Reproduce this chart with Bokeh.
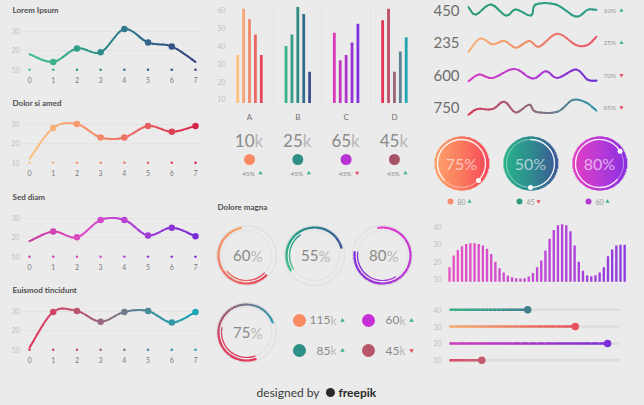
import numpy as np
from bokeh.plotting import figure
from bokeh.layouts import row, column
from bokeh.models import FixedTicker, Range1d
from bokeh.core.properties import value
from bokeh.embed import file_html
from bokeh.resources import INLINE

BG = "#ebebeb"
FONT = "Lato"
UP = "#3bb08f"
DOWN = "#e2475c"

# ------------------------------------------------------------------ data
line_x = [0, 1, 2, 3, 4, 5, 6, 7]
line_y_ticks = [10, 20, 30]
lorem_ipsum = [18, 14, 21, 19, 31, 24, 22, 14]
dolor_si_amed = [12, 28, 30, 23, 23, 29, 26, 29]
sed_diam = [18, 23, 20, 29, 29, 21, 25, 20.5]
euismod_tincidunt = [11, 29.5, 30, 24.5, 29.5, 30, 24, 29.5]
line_titles = ["Lorem Ipsum", "Dolor si amed", "Sed diam", "Euismod tincidunt"]

bar_groups = ["A", "B", "C", "D"]
bar_y_ticks = [10, 20, 30, 40, 50, 60]
bars_a = [35, 61, 55, 46.5, 35]
bars_b = [40, 46.5, 62, 58, 25.5]
bars_c = [47.5, 32, 35, 42, 52.5]
bars_d = [54.5, 61, 25.5, 37, 45]

kpi_values = ["10", "25", "65", "45"]
kpi_changes = ["45%", "45%", "45%", "45%"]
kpi_up = [True, True, False, True]

ring_pct = [60, 55, 80, 75]
magna_values = ["115", "85", "60", "45"]
magna_up = [True, True, True, False]

spark_labels = ["450", "235", "600", "750"]
spark_changes = ["10%", "25%", "70%", "85%"]
spark_up = [True, True, False, False]
spark1_x = [0, 5.7, 17.4, 29.2, 37.0, 48.7, 52.6, 68.2, 83.9, 93.0, 100]
spark1_v = [30, 8, 38, 5, 23, 5, 38, 38, 2, 22, 22]
spark2_x = [0, 9.1, 18.8, 27.9, 37.0, 47.4, 55.2, 69.5, 83.9, 93.0, 100]
spark2_v = [7, 47, 30, 40, 20, 40, 23, 62, 28, 28, 53]
spark3_x = [0, 8.3, 18.8, 35.7, 50.0, 60.4, 69.5, 83.9, 93.0, 100]
spark3_v = [10, 30, 20, 47, 18, 40, 20, 45, 15, 12]
spark4_x = [0, 7.0, 18.8, 27.9, 37.0, 47.4, 52.6, 69.5, 81.3, 91.7, 100]
spark4_v = [8, 25, 25, 47, 15, 38, 17, 17, 52, 45, 20]

circle_pct = [75, 50, 80]
circle_counts = ["80", "45", "60"]
circle_up = [True, False, True]

wave_y_ticks = [10, 20, 30, 40]
wave_values = [16.8, 23.5, 26.7, 28.8, 30.1, 30.5, 30.5, 30.1, 29.2, 27.3, 24.4,
               20.0, 16.3, 13.8, 12.1, 11.1, 10.6, 10.4, 10.6, 11.5, 13.6, 16.8,
               20.6, 26.3, 33.0, 38.1, 40.7, 41.3, 40.7, 37.3, 29.2, 20.0, 14.9,
               12.1, 11.7, 12.3, 13.8, 16.8, 23.1, 26.9, 29.2, 29.7, 29.7]

slider_levels = [40, 30, 20, 10]
slider_values = [46, 74, 93, 19]

# ------------------------------------------------------------------ palettes
LINE_STOPS = [["#46c08f", "#2f9a88", "#2f6c8c", "#3a3f80"],
              ["#fcc584", "#f8946b", "#ea6663", "#d5264c"],
              ["#c43da0", "#e04cc6", "#a83ed6", "#7a2fd6"],
              ["#e33759", "#c34f6c", "#8a7186", "#3d8e9c", "#1ea6b4"]]
BAR_STOPS = [["#fbbf7e", "#f08a68", "#e0485a"],
             ["#3ab38a", "#2f8a84", "#3a4f8f"],
             ["#d83bb8", "#b032cc", "#7f30e0"],
             ["#e0365a", "#9a6478", "#21a4b0"]]
KPI_COLORS = ["#f98a62", "#2e8f86", "#b833d4", "#a85268"]
RING_STOPS = [["#f9a86b", "#f07a62", "#e6455c"],
              ["#3a4d8f", "#2f7f92", "#2aa38a", "#47be8c"],
              ["#e040c8", "#b73ad6", "#7a2fd6"],
              ["#2a9fb0", "#8a6b80", "#d8405e", "#e33759"]]
RING_START = [100, 15, 100, 20]
RING_DIR = [1, 1, -1, 1]
MAGNA_COLORS = ["#f98a62", "#2e8f86", "#c630d6", "#b7566a"]
SPARK_STOPS = [["#2c9c78", "#2e9e8a"],
               ["#f8b57a", "#ef8a6a", "#e8566a"],
               ["#d63fc0", "#b43ad0", "#6a2fd0"],
               ["#d8395a", "#8c6a7a", "#2a9aaa"]]
CIRCLE_STOPS = [["#fca36b", "#fb7a5f", "#f5485a"],
                ["#28b28a", "#2e8d8e", "#3d5896"],
                ["#e43fc2", "#b93bd6", "#8a2fe0"]]
CIRCLE_DOT_ANGLE = [-45, -90, 31]
CIRCLE_LEG = ["#f49070", "#2e9a80", "#b23ad0"]
WAVE_STOPS = ["#e752c3", "#c247d5", "#8c3be2"]
SLIDER_STOPS = [["#3bb08a", "#3d7f8c"], ["#f7ac6c", "#e5525a"],
                ["#d33ab8", "#7a2fd8"], ["#e0385c", "#c45a70"]]


# ------------------------------------------------------------------ helpers
def h2r(h):
    h = h.lstrip("#")
    return [int(h[i:i + 2], 16) for i in (0, 2, 4)]


def grad1(stops, t):
    t = min(max(float(t), 0.0), 1.0)
    n = len(stops) - 1
    k = min(int(t * n), n - 1)
    f = t * n - k
    a, b = h2r(stops[k]), h2r(stops[k + 1])
    return "#%02x%02x%02x" % tuple(int(round(a[i] + (b[i] - a[i]) * f)) for i in range(3))


def grad(stops, ts):
    return [grad1(stops, t) for t in ts]


def bez_pt(B, t):
    m = 1 - t
    return m ** 3 * B[0] + 3 * m * m * t * B[1] + 3 * m * t * t * B[2] + t ** 3 * B[3]


def bez_d(B, t):
    m = 1 - t
    return 3 * m * m * (B[1] - B[0]) + 6 * m * t * (B[2] - B[1]) + 3 * t * t * (B[3] - B[2])


def smooth_line(p, xs, ys, stops, width=2.0, sub=5):
    xs = np.asarray(xs, float)
    ys = np.asarray(ys, float)
    P = np.column_stack([xs, ys])
    n = len(xs)
    d = {k: [] for k in ("x0", "y0", "x1", "y1", "cx0", "cy0", "cx1", "cy1")}
    cols = []
    span = xs[-1] - xs[0]
    for i in range(n - 1):
        p0, p3 = P[i], P[i + 1]
        pm_ = P[i - 1] if i > 0 else P[i]
        pn = P[i + 2] if i + 2 < n else P[i + 1]
        B = np.array([p0, p0 + (p3 - pm_) / 6.0, p3 - (pn - p0) / 6.0, p3])
        for j in range(sub):
            t0, t1 = j / sub, (j + 1) / sub
            a, dd = bez_pt(B, t0), bez_pt(B, t1)
            b = a + bez_d(B, t0) * (t1 - t0) / 3
            c = dd - bez_d(B, t1) * (t1 - t0) / 3
            d["x0"].append(a[0]); d["y0"].append(a[1])
            d["x1"].append(dd[0]); d["y1"].append(dd[1])
            d["cx0"].append(b[0]); d["cy0"].append(b[1])
            d["cx1"].append(c[0]); d["cy1"].append(c[1])
            cols.append(grad1(stops, (bez_pt(B, (t0 + t1) / 2)[0] - xs[0]) / span))
    p.bezier(line_color=cols, line_width=width, line_cap="round", **d)


def grad_arc(p, x, y, r, a0, sweep, stops, width, t0=0.0, t1=1.0, n=40, alpha=1.0):
    ts = np.linspace(t0, t1, n + 1)
    angs = a0 + sweep * ts
    s, e = angs[:-1], angs[1:]
    if sweep < 0:
        s, e = e, s
    cols = grad(stops, (ts[:-1] + ts[1:]) / 2)
    p.arc(x=[x] * n, y=[y] * n, radius=r, radius_units="screen",
          start_angle=np.radians(s - 0.8), end_angle=np.radians(e + 0.8),
          line_color=cols, line_width=width, line_alpha=alpha)


def base(w, h, xr, yr, left=0, right=0, top=0, bottom=0, axes=False, **kw):
    extra = {} if axes else dict(x_axis_location=None, y_axis_location=None)
    p = figure(width=w, height=h, x_range=xr, y_range=yr, output_backend="svg",
               toolbar_location=None, min_border_left=left, min_border_right=right,
               min_border_top=top, min_border_bottom=bottom, **extra, **kw)
    p.background_fill_color = BG
    p.border_fill_color = BG
    p.outline_line_color = None
    p.grid.visible = False
    return p


def style_axis(ax, color, size, standoff=2):
    ax.axis_line_color = None
    ax.major_tick_line_color = None
    ax.minor_tick_line_color = None
    ax.major_tick_out = 0
    ax.major_tick_in = 0
    ax.major_label_text_color = color
    ax.major_label_text_font = FONT
    ax.major_label_text_font_size = size
    ax.major_label_standoff = standoff


def txt(p, x, y, t, size, color, align="center", style="normal", alpha=1.0, xo=0, baseline="middle"):
    p.text(x=x, y=y, text=t, text_font=value(FONT), text_font_size=size,
           text_color=color, text_align=align, text_baseline=baseline,
           text_font_style=style, text_alpha=alpha, x_offset=xo)


def tri(p, x, y, up, size=4.5):
    p.scatter(x=x, y=y, marker="triangle" if up else "inverted_triangle", size=size,
              color=UP if up else DOWN, line_color=None)


def boxed(p):
    # own row around each figure, so that its frame is not aligned with its neighbours
    return row(p, styles={"background-color": BG})


# ------------------------------------------------------------------ left: line panels
def line_panel(title, ys, stops, mark_from, height):
    p = base(210, height, Range1d(-0.295, 7.38), Range1d(8, 37), left=22, right=6,
             top=15, bottom=height - 73, axes=True, title=title)
    p.title.text_font = FONT
    p.title.text_font_size = "8px"
    p.title.text_font_style = "bold"
    p.title.text_color = "#505050"
    p.title.align = "left"
    p.title.offset = -10
    p.title.standoff = 5
    p.xaxis.ticker = FixedTicker(ticks=line_x)
    p.yaxis.ticker = FixedTicker(ticks=line_y_ticks)
    style_axis(p.xaxis[0], "#7a7a7a", "7px", 3)
    style_axis(p.yaxis[0], "#c0c0c0", "7px", 3)
    p.ygrid.visible = True
    p.ygrid.ticker = FixedTicker(ticks=[20, 30])
    p.ygrid.grid_line_color = "#e3e3e3"
    tcols = grad(stops, np.array(line_x) / 7.0)
    p.line(x=line_x, y=[10] * 8, line_color="#dadada", line_width=1, line_dash="1 3")
    p.scatter(x=line_x, y=[10] * 8, size=2.5, color=tcols, line_color=None)
    smooth_line(p, line_x, ys, stops, width=2.0)
    mx = line_x[mark_from[0]:mark_from[1]]
    my = ys[mark_from[0]:mark_from[1]]
    p.scatter(x=mx, y=my, size=6.5, color=tcols[mark_from[0]:mark_from[1]], line_color=None)
    return p


left = column(
    line_panel(line_titles[0], lorem_ipsum, LINE_STOPS[0], (1, 7), 93),
    line_panel(line_titles[1], dolor_si_amed, LINE_STOPS[1], (1, 8), 94),
    line_panel(line_titles[2], sed_diam, LINE_STOPS[2], (1, 8), 93),
    line_panel(line_titles[3], euismod_tincidunt, LINE_STOPS[3], (1, 8), 125),
    styles={"background-color": BG},
)

# ------------------------------------------------------------------ middle: bars
xr_mid = Range1d(-0.435, 3.457)
pb = base(210, 125, xr_mid, Range1d(6, 62.8), left=18, right=4, top=5, bottom=19, axes=True)
pb.xaxis.ticker = FixedTicker(ticks=[0, 1, 2, 3])
pb.xaxis.major_label_overrides = {i: g for i, g in enumerate(bar_groups)}
pb.yaxis.ticker = FixedTicker(ticks=bar_y_ticks)
style_axis(pb.xaxis[0], "#707070", "8px", 5)
style_axis(pb.yaxis[0], "#c0c0c0", "7px", 3)
pb.xgrid.visible = True
pb.xgrid.ticker = FixedTicker(ticks=[0.5, 1.5, 2.5])
pb.xgrid.grid_line_color = "#e4e4e4"
offsets = np.array([-2, -1, 0, 1, 2]) * 0.122
for gi, vals in enumerate([bars_a, bars_b, bars_c, bars_d]):
    pb.vbar(x=gi + offsets, bottom=8, top=vals, width=0.058,
            color=grad(BAR_STOPS[gi], np.linspace(0, 1, 5)), line_color=None)

PX_MID = 48.3  # px per group unit
pk = base(210, 57, xr_mid, Range1d(0, 57), left=18, right=4)
gx = np.arange(4)
txt(pk, gx, [42] * 4, kpi_values, "17px", "#8a8a8a", align="right", xo=5)
txt(pk, gx, [42] * 4, ["k"] * 4, "17px", "#b8b8b8", align="left", xo=5)
pk.scatter(x=gx, y=[23] * 4, size=11, color=KPI_COLORS, line_color=None)
txt(pk, gx, [9] * 4, kpi_changes, "6.5px", "#8a8a8a", xo=-1)
for i in range(4):
    tri(pk, [gx[i] + 11 / PX_MID], [9.5], kpi_up[i], size=4)

# ------------------------------------------------------------------ middle: Dolore magna
PX_RING = 68.0
pm = base(210, 223, Range1d(-36 / PX_RING, 174 / PX_RING), Range1d(-(223 - 73) / 77, 73 / 77))
txt(pm, [-29 / PX_RING], [(73 - 24) / 77], ["Dolore magna"], "8px", "#505050", align="left", style="bold")
ring_col = [0, 1, 2, 0]
ring_row = [0, 0, 0, -1]
for i, pct in enumerate(ring_pct):
    cx, cy = ring_col[i], ring_row[i]
    pm.arc(x=[cx], y=[cy], radius=30, radius_units="screen", start_angle=0,
           end_angle=2 * np.pi, line_color="#dcdcdc", line_width=1)
    pm.arc(x=[cx], y=[cy], radius=25, radius_units="screen", start_angle=0,
           end_angle=2 * np.pi, line_color="#e0e0e0", line_width=1)
    sweep = RING_DIR[i] * pct / 100 * 360
    grad_arc(pm, cx, cy, 28, RING_START[i], sweep, RING_STOPS[i], 2.2)
    grad_arc(pm, cx, cy, 25, RING_START[i], sweep, RING_STOPS[i], 1.2, t0=0.55, t1=1.0, n=24)
    txt(pm, [cx], [cy], [str(pct)], "15px", "#8a8a8a", align="right", xo=4)
    txt(pm, [cx], [cy], ["%"], "15px", "#b8b8b8", align="left", xo=4)

leg_x = np.array([0.779, 0.779, 1.794, 1.794])
leg_y = [-0.844, -1.234, -0.844, -1.234]
pm.scatter(x=leg_x, y=leg_y, size=13, color=MAGNA_COLORS, line_color=None)
txt(pm, leg_x, leg_y, magna_values, "12px", "#8a8a8a", align="right", xo=31)
txt(pm, leg_x, leg_y, ["k"] * 4, "12px", "#b8b8b8", align="left", xo=31)
for i in range(4):
    tri(pm, [leg_x[i] + 43 / PX_RING], [leg_y[i]], magna_up[i], size=4.5)

FOOT_Y = -(210 - 73) / 77
txt(pm, [1.074], [FOOT_Y], ["designed by"], "12px", "#3a3a3a", align="right")
pm.scatter(x=[1.235], y=[FOOT_Y], size=9, color="#2a2a2a", line_color=None)
txt(pm, [1.353], [FOOT_Y], ["freepik"], "12px", "#2a2a2a", align="left", style="bold")

mid = column(boxed(pb), boxed(pk), boxed(pm), styles={"background-color": BG})

# ------------------------------------------------------------------ right: sparklines
ROW_PX = 32.3
ps = base(224, 125, Range1d(-37.5, -37.5 + 224 / 1.28), Range1d(-(125 - 10) / ROW_PX, 10 / ROW_PX))
sparks = [(spark1_x, spark1_v), (spark2_x, spark2_v), (spark3_x, spark3_v), (spark4_x, spark4_v)]
for k, (sx, sv) in enumerate(sparks):
    sv = np.asarray(sv, float)
    mid_v = (sv.max() + sv.min()) / 2
    sy = -k + (sv - mid_v) / (3 * ROW_PX)
    smooth_line(ps, sx, sy, SPARK_STOPS[k], width=2.0, sub=4)
rows_y = [0, -1, -2, -3]
txt(ps, [-7] * 4, rows_y, spark_labels, "15px", "#6e6e6e", align="right")
txt(ps, [105.5] * 4, rows_y, spark_changes, "6.5px", "#9a9a9a", align="left")
for k in range(4):
    tri(ps, [119.5], [rows_y[k]], spark_up[k], size=4)

# ------------------------------------------------------------------ right: gradient circles
PX_C = 69.0
pc = base(224, 85, Range1d(-41 / PX_C, 183 / PX_C), Range1d(-47, 38))
R = 27
for i, pct in enumerate(circle_pct):
    pc.scatter(x=[i], y=[0], size=2 * R - 1, color=grad1(CIRCLE_STOPS[i], 0.5), line_color=None)
    dx = np.arange(-R, R)
    h = np.sqrt(np.maximum(R * R - (dx + 0.5) ** 2, 0))
    pc.quad(left=i + dx / PX_C, right=i + (dx + 1.8) / PX_C, bottom=-h, top=h,
            fill_color=grad(CIRCLE_STOPS[i], (dx + R + 0.5) / (2 * R)), line_color=None)
    pc.arc(x=[i], y=[0], radius=24, radius_units="screen", start_angle=0, end_angle=2 * np.pi,
           line_color="white", line_width=1, line_alpha=0.45)
    a_end = CIRCLE_DOT_ANGLE[i]
    pc.arc(x=[i], y=[0], radius=24, radius_units="screen",
           start_angle=np.radians(a_end), end_angle=np.radians(a_end + pct / 100 * 360),
           line_color="white", line_width=1.3, line_alpha=0.85)
    pc.scatter(x=[i + 24 * np.cos(np.radians(a_end)) / PX_C], y=[24 * np.sin(np.radians(a_end))],
               size=5, color="white", line_color=None)
    txt(pc, [i], [0], [f"{pct}%"], "16px", "white", alpha=0.6)
cxs = np.arange(3)
pc.scatter(x=cxs - 11 / PX_C, y=[-38] * 3, size=6, color=CIRCLE_LEG, line_color=None)
txt(pc, cxs - 4 / PX_C, [-38] * 3, circle_counts, "7px", "#9a9a9a", align="left")
for i in range(3):
    tri(pc, [i + 8 / PX_C], [-38], circle_up[i], size=4)

# ------------------------------------------------------------------ right: wave bars
pw = base(224, 80, Range1d(-1.2, 43.4), Range1d(7, 48), left=24, right=14, top=2, bottom=6, axes=True)
pw.xaxis.visible = False
pw.yaxis.ticker = FixedTicker(ticks=wave_y_ticks)
style_axis(pw.yaxis[0], "#c0c0c0", "7px", 3)
wx = np.arange(len(wave_values))
pw.vbar(x=wx, bottom=8.5, top=wave_values, width=0.56,
        color=grad(WAVE_STOPS, wx / (len(wx) - 1)), line_color=None)

# ------------------------------------------------------------------ right: sliders
psl = base(224, 115, Range1d(-2.94, 106.5), Range1d(4, 46), left=24, right=14, top=9, bottom=35, axes=True)
psl.xaxis.visible = False
psl.yaxis.ticker = FixedTicker(ticks=slider_levels)
style_axis(psl.yaxis[0], "#c0c0c0", "7px", 3)
psl.segment(x0=[0] * 4, x1=[100] * 4, y0=slider_levels, y1=slider_levels,
            line_color="#dcdcdc", line_width=2.5)
for i, (lev, val) in enumerate(zip(slider_levels, slider_values)):
    n = 20
    xs = np.linspace(0, val, n + 1)
    psl.segment(x0=xs[:-1], x1=xs[1:], y0=[lev] * n, y1=[lev] * n,
                line_color=grad(SLIDER_STOPS[i], (np.arange(n) + 0.5) / n), line_width=2.5)
    psl.scatter(x=[val], y=[lev], size=7.5, color=SLIDER_STOPS[i][-1], line_color=None)

right = column(boxed(ps), boxed(pc), boxed(pw), boxed(psl), styles={"background-color": BG})

layout = row(left, mid, right, styles={"background-color": BG})
open("out.html", "w").write(file_html(layout, INLINE))
